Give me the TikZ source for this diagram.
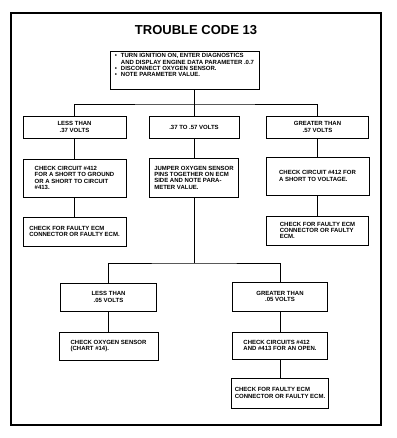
\documentclass[tikz,border=0pt]{standalone}
\usepackage{fontspec}
\setmainfont{Liberation Sans}
\usepackage{tikz}
\usetikzlibrary{calc,positioning}
\newcommand{\boxfont}{\fontsize{6}{6.3}\selectfont\bfseries}
\newcommand{\bul}{\makebox[6pt][l]{\textbullet}}
\tikzset{
  frame/.style={line width=2pt,black},
  heading/.style={font=\fontsize{13}{15}\selectfont\bfseries},
  stepbox/.style={draw,line width=0.9pt,inner sep=1pt,font=\boxfont,align=left},
  midbox/.style={stepbox,align=center},
  boxsize/.style 2 args={minimum width=#1pt,minimum height=#2pt},
  link/.style={line width=0.8pt}
}
\begin{document}
\begin{tikzpicture}[x=1pt,y=-1pt]
  \useasboundingbox (0,0) rectangle (396,438);
  \draw[frame] (11,13) rectangle (381,425);
  \node[heading] (title) at (196,30.5) {TROUBLE CODE 13};
  % first test
  \node[stepbox,boxsize={149}{38}] (start) at (184.5,70)
    {\bul TURN IGNITION ON, ENTER DIAGNOSTICS\\
     \hspace*{6pt}AND DISPLAY ENGINE DATA PARAMETER .0.7\\
     \bul DISCONNECT OXYGEN SENSOR.\\
     \bul NOTE PARAMETER VALUE.\\[3.5pt]\mbox{}};
  % three readings
  \node[midbox,boxsize={103}{22}] (lowA) at (74.5,127) {LESS THAN\\.37 VOLTS};
  \node[midbox,boxsize={90}{22}] (midA) at (194,127) {.37 TO .57 VOLTS};
  \node[midbox,boxsize={102}{22}] (highA) at (317.5,127) {GREATER THAN\\.57 VOLTS};
  \node[stepbox,boxsize={103}{38}] (lowB) at (74.5,178)
    {CHECK CIRCUIT \#412\\FOR A SHORT TO GROUND\\OR A SHORT TO CIRCUIT\\\#413.};
  \node[stepbox,boxsize={89}{39}] (midB) at (194,177.5)
    {JUMPER OXYGEN SENSOR\\PINS TOGETHER ON ECM\\SIDE AND NOTE PARA-\\METER VALUE.};
  \node[stepbox,boxsize={103}{38}] (highB) at (317.5,176)
    {CHECK CIRCUIT \#412 FOR\\A SHORT TO VOLTAGE.};
  \node[stepbox,boxsize={103}{29}] (lowC) at (74.5,231.5)
    {CHECK FOR FAULTY ECM\\CONNECTOR OR FAULTY ECM.};
  \node[stepbox,boxsize={102}{29}] (highC) at (317.5,230.5)
    {CHECK FOR FAULTY ECM\\CONNECTOR OR FAULTY\\ECM.};
  % jumpered reading
  \node[midbox,boxsize={96}{28}] (lowD) at (108.5,297) {LESS THAN\\.05 VOLTS};
  \node[midbox,boxsize={95}{29}] (highD) at (280,296.5) {GREATER THAN\\.05 VOLTS};
  \node[stepbox,boxsize={99}{28}] (sensor) at (108.5,346)
    {CHECK OXYGEN SENSOR\\(CHART \#14).};
  \node[stepbox,boxsize={95}{27}] (open) at (280,345.5)
    {CHECK CIRCUITS \#412\\AND \#413 FOR AN OPEN.};
  \node[stepbox,boxsize={97}{30}] (faulty) at (280,393)
    {CHECK FOR FAULTY ECM\\CONNECTOR OR FAULTY ECM.};
  % connectors
  \coordinate (forkA) at (194,104);
  \coordinate (forkB) at (194,263);
  \draw[link] (start.south -| midA.north) -- (midA.north);
  \draw[link] (lowA.north) |- (forkA) -| (highA.north);
  \draw[link] (lowA) -- (lowB);
  \draw[link] (lowB) -- (lowC);
  \draw[link] (midA) -- (midB);
  \draw[link] (highA) -- (highB);
  \draw[link] (highB) -- (highC);
  \draw[link] (midB.south) -- (forkB);
  \draw[link] (lowD.north) |- (forkB) -| (highD.north);
  \draw[link] (lowD) -- (sensor);
  \draw[link] (highD) -- (open);
  \draw[link] (open) -- (faulty);
\end{tikzpicture}
\end{document}
